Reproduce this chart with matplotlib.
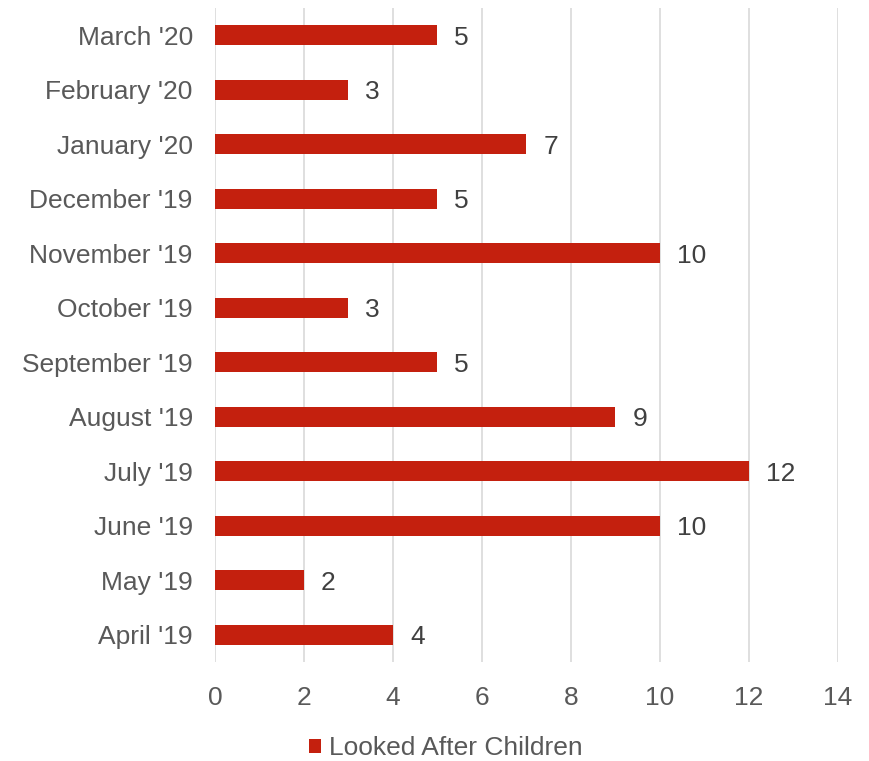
import matplotlib
matplotlib.use("Agg")
import matplotlib.pyplot as plt
from matplotlib.patches import Patch

months = ["April '19", "May '19", "June '19", "July '19", "August '19",
          "September '19", "October '19", "November '19", "December '19",
          "January '20", "February '20", "March '20"]
counts = [4, 2, 10, 12, 9, 5, 3, 10, 5, 7, 3, 5]
x_ticks = [0, 2, 4, 6, 8, 10, 12, 14]
series_name = "Looked After Children"

BAR = "#C4200E"
LABEL = "#404040"
TICK = "#595959"
GRID = "#D9D9D9"
FS = 19

plt.rcParams["font.family"] = ["Liberation Sans", "DejaVu Sans"]

fig = plt.figure(figsize=(8.7, 7.61), dpi=100)
ax = fig.add_axes([215 / 870, 1 - 662 / 761, 623 / 870, 654 / 761])

ypos = list(range(len(months)))
ax.barh(ypos, counts, height=0.37, color=BAR, zorder=3)
for y, v in zip(ypos, counts):
    ax.text(v + 0.38, y, str(v), va="center_baseline", ha="left",
            fontsize=FS, color=LABEL)

ax.set_xlim(0, 14)
ax.set_ylim(-0.5, len(months) - 0.5)
ax.set_xticks(x_ticks)
ax.set_yticks(ypos)
ax.set_yticklabels(months)
ax.tick_params(axis="both", length=0, labelsize=FS, colors=TICK)
ax.tick_params(axis="y", pad=16)
ax.tick_params(axis="x", pad=17)
ax.grid(axis="x", color=GRID, linewidth=1.2, zorder=0)
for s in ax.spines.values():
    s.set_visible(False)

handle = Patch(facecolor=BAR, edgecolor="none")
fig.legend([handle], [series_name], loc="center", frameon=False,
           bbox_to_anchor=(446 / 870, 1 - 748 / 761), fontsize=FS,
           handlelength=0.45, handleheight=0.45, handletextpad=0.3,
           labelcolor=TICK)

fig.savefig("out.png", dpi=100)
